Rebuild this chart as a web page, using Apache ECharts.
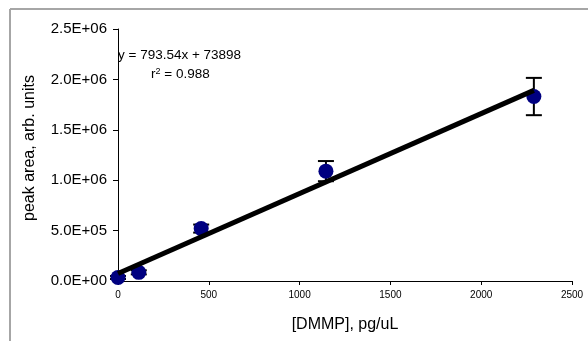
<!DOCTYPE html>
<html><head><meta charset="utf-8">
<script src="https://cdn.jsdelivr.net/npm/echarts@6/dist/echarts.min.js"></script>
<style>html,body{margin:0;padding:0;background:#fff}#c{width:588px;height:341px}</style>
</head><body><div id="c"></div>
<script>
const xValues = [0, 114.5, 458, 1145, 2290];
const yValues = [35000, 86000, 520000, 1090000, 1830000];
const yErrors = [15000, 20000, 40000, 100000, 185000];
const slope = 793.54;
const intercept = 73898;
const trendRange = [0, 2290];
const xTickLabels = ['0','500','1000','1500','2000','2500'];
const yTickLabels = ['0.0E+00','5.0E+05','1.0E+06','1.5E+06','2.0E+06','2.5E+06'];

const chart = echarts.init(document.getElementById('c'));
const font = '"Liberation Sans", Arial, sans-serif';
const points = xValues.map((x,i)=>[x, yValues[i]]);
const errData = xValues.map((x,i)=>[x, yValues[i]-yErrors[i], yValues[i]+yErrors[i]]);
const trend = trendRange.map(x=>[x, slope*x+intercept]);

chart.setOption({
  animation:false,
  textStyle:{fontFamily:font},
  grid:{left:118,right:16,top:29,bottom:60},
  xAxis:{type:'value',min:0,max:2500,interval:500,
    name:'[DMMP], pg/uL',nameLocation:'middle',nameGap:36,
    nameTextStyle:{fontSize:16,color:'#000',fontFamily:font},
    axisLine:{lineStyle:{color:'#000',width:1}},
    axisTick:{show:true,length:4,lineStyle:{color:'#000'}},
    axisLabel:{fontSize:10,color:'#000',margin:9,fontFamily:font,
      formatter:(v)=>xTickLabels[Math.round(v/500)]},
    splitLine:{show:false}},
  yAxis:{type:'value',min:0,max:2500000,interval:500000,
    axisLine:{show:true,lineStyle:{color:'#000',width:1}},
    axisTick:{show:true,length:5,lineStyle:{color:'#000'}},
    axisLabel:{fontSize:15,color:'#000',margin:11,fontFamily:font,
      formatter:(v)=>yTickLabels[Math.round(v/500000)]},
    splitLine:{show:false}},
  graphic:[
    {type:'line',shape:{x1:10,y1:9,x2:600,y2:9},style:{stroke:'#a6a6a6',lineWidth:2},silent:true},
    {type:'line',shape:{x1:10,y1:9,x2:10,y2:360},style:{stroke:'#a6a6a6',lineWidth:2},silent:true},
    {type:'text',x:30,y:148,rotation:Math.PI/2,style:{text:'peak area, arb. units',font:'16px '+font,fill:'#000',align:'center',verticalAlign:'middle'}},
    {type:'text',left:118,top:48,style:{text:'y = 793.54x + 73898',font:'13.5px '+font,fill:'#000'}},
    {type:'text',left:151,top:67,style:{
      text:'r{sup|2} = 0.988',font:'13.5px '+font,fill:'#000',
      rich:{sup:{fontSize:9,verticalAlign:'top',padding:[0,0,6,0],fontFamily:font}}}}
  ],
  series:[
    {type:'custom',z:3,data:errData,renderItem:(params,api)=>{
      const x=api.value(0);
      const lo=api.coord([x,api.value(1)]);
      const hi=api.coord([x,api.value(2)]);
      const w=8;
      return {type:'group',children:[
        {type:'line',shape:{x1:lo[0],y1:lo[1],x2:hi[0],y2:hi[1]},style:{stroke:'#000',lineWidth:2}},
        {type:'line',shape:{x1:lo[0]-w,y1:lo[1],x2:lo[0]+w,y2:lo[1]},style:{stroke:'#000',lineWidth:2}},
        {type:'line',shape:{x1:hi[0]-w,y1:hi[1],x2:hi[0]+w,y2:hi[1]},style:{stroke:'#000',lineWidth:2}}
      ]};
    }},
    {type:'scatter',z:4,data:points,symbol:'circle',symbolSize:15,itemStyle:{color:'#000080',opacity:1}},
    {type:'line',z:5,data:trend,showSymbol:false,lineStyle:{color:'#000',width:5},itemStyle:{color:'#000'}}
  ]
});
</script></body></html>
